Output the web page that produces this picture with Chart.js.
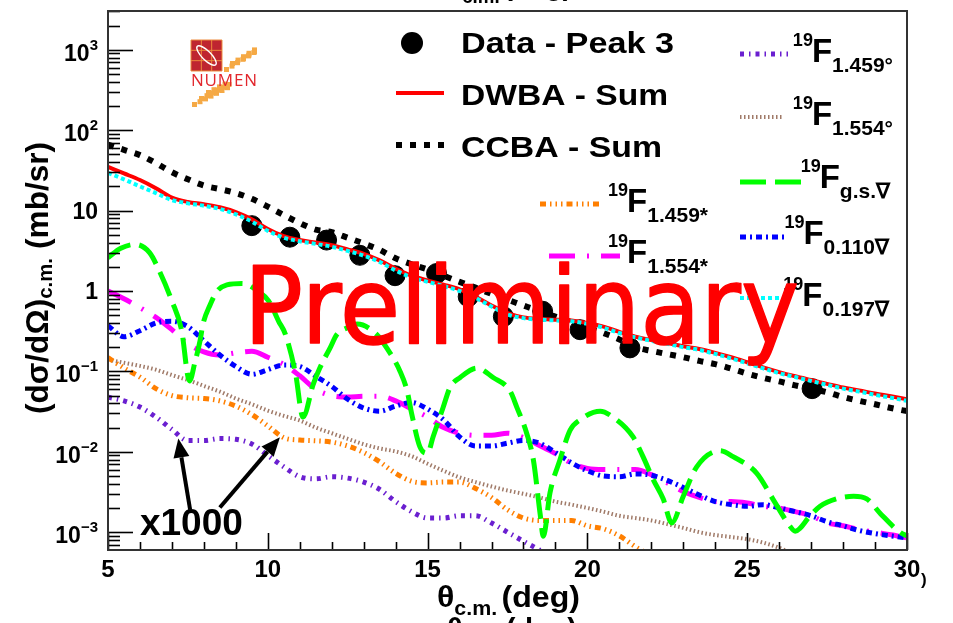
<!DOCTYPE html>
<html>
<head>
<meta charset="utf-8">
<title>19F angular distributions</title>
<script src="https://cdn.jsdelivr.net/npm/chart.js@4.4.1/dist/chart.umd.min.js"></script>
<style>
  html, body { margin: 0; padding: 0; background: #fff; overflow: hidden; }
  canvas { display: block; }
</style>
</head>
<body>
<canvas id="xsChart" width="953" height="623"></canvas>
<script>
// angle grid shared by the smooth theory curves (deg, c.m.)
const theta = [5, 5.5, 6, 6.5, 7, 7.5, 8, 8.5, 9, 9.5,
               10, 10.5, 11, 11.5, 12, 12.5, 13, 13.5, 14, 14.5,
               15, 15.5, 16, 16.5, 17, 17.5, 18, 18.5, 19, 19.5,
               20, 20.5, 21, 21.5, 22, 22.5, 23, 23.5, 24, 24.5,
               25, 25.5, 26, 26.5, 27, 27.5, 28, 28.5, 29, 29.5, 30];

// cross sections in mb/sr
const dwbaSum = [35, 29, 24, 19, 14.5, 12.8, 12.0, 11.0, 9.6, 7.8,
                 5.9, 4.8, 4.3, 4.0, 3.7, 3.3, 2.9, 2.4, 1.9, 1.55,
                 1.35, 1.2, 1.05, 0.85, 0.66, 0.53, 0.47, 0.45, 0.44, 0.43,
                 0.40, 0.36, 0.31, 0.27, 0.245, 0.225, 0.205, 0.19, 0.17, 0.15,
                 0.13, 0.112, 0.098, 0.087, 0.078, 0.07, 0.063, 0.058, 0.053, 0.049, 0.045];
const ccbaSum = [66, 57, 49, 39, 30, 24.5, 20.5, 18.5, 16.5, 14,
                 11.2, 8.8, 7.0, 5.8, 5.4, 4.6, 3.9, 3.25, 2.55, 2.15,
                 1.85, 1.55, 1.3, 1.1, 0.92, 0.78, 0.66, 0.56, 0.48, 0.41,
                 0.35, 0.3, 0.25, 0.2, 0.18, 0.164, 0.15, 0.135, 0.123, 0.108,
                 0.094, 0.083, 0.075, 0.067, 0.061, 0.055, 0.048, 0.043, 0.039, 0.035, 0.032];
const f0197 = [29.5, 24.5, 20, 16.5, 13.5, 12.3, 11.5, 10.5, 9.0, 7.3,
               5.6, 4.6, 4.15, 3.85, 3.55, 3.15, 2.75, 2.3, 1.8, 1.48,
               1.3, 1.15, 1.0, 0.82, 0.64, 0.51, 0.46, 0.44, 0.43, 0.42,
               0.39, 0.35, 0.30, 0.265, 0.24, 0.22, 0.2, 0.185, 0.165, 0.145,
               0.126, 0.109, 0.095, 0.085, 0.076, 0.068, 0.061, 0.056, 0.051, 0.047, 0.043];
const f0110 = [0.37, 0.27, 0.32, 0.40, 0.42, 0.36, 0.24, 0.16, 0.115, 0.092,
               0.105, 0.12, 0.115, 0.087, 0.065, 0.045, 0.035, 0.032, 0.037, 0.041,
               0.034, 0.025, 0.0153, 0.0118, 0.0118, 0.0128, 0.0138, 0.0128, 0.0098, 0.0073,
               0.0058, 0.005, 0.0049, 0.0053, 0.0051, 0.0044, 0.0036, 0.0029, 0.0024, 0.0022,
               0.0021, 0.0022, 0.002, 0.0018, 0.0016, 0.00135, 0.0012, 0.00105, 0.00096, 0.0009, 0.00085];
const f1554s = [1.0, 0.80, 0.62, 0.47, 0.33, 0.22, 0.175, 0.16, 0.17, 0.178,
                0.15, 0.122, 0.088, 0.06, 0.05, 0.048, 0.049, 0.049, 0.043, 0.034,
                0.027, 0.02, 0.017, 0.016, 0.016, 0.017, 0.015, 0.012, 0.0095, 0.0072,
                0.0062, 0.006, 0.006, 0.006, 0.0052, 0.0041, 0.0032, 0.0027, 0.0024, 0.0024,
                0.0023, 0.0021, 0.002, 0.0018, 0.0016, 0.0013, 0.0012, 0.00108, 0.001, 0.00093, 0.00085];
// the two "x1000" curves
const f1459s = [0.148, 0.11, 0.085, 0.061, 0.05, 0.047, 0.046, 0.043, 0.037, 0.029,
                0.021, 0.015, 0.014, 0.0137, 0.0132, 0.0118, 0.0098, 0.0075, 0.0054, 0.0043,
                0.0041, 0.0042, 0.0042, 0.0035, 0.0027, 0.0019, 0.0015, 0.0014, 0.0014, 0.0014,
                0.0012, 0.0011, 0.0009, 0.00066, 0.0005, null, null, null, null, null,
                null, null, null, null, null, null, null, null, null, null, null];
const f1459d = [0.0476, 0.043, 0.036, 0.027, 0.019, 0.0138, 0.0138, 0.0146, 0.0143, 0.0125,
                0.009, 0.0065, 0.0049, 0.0046, 0.0049, 0.0047, 0.0042, 0.0034, 0.0024, 0.0018,
                0.0015, 0.0015, 0.0016, 0.0016, 0.0013, 0.001, 0.00077, 0.0006, 0.00045, null,
                null, null, null, null, null, null, null, null, null, null,
                null, null, null, null, null, null, null, null, null, null, null];
const f1554d = [0.14, 0.128, 0.117, 0.105, 0.09, 0.078, 0.066, 0.056, 0.046, 0.039,
                0.0325, 0.028, 0.0245, 0.020, 0.017, 0.0145, 0.0124, 0.011, 0.0101, 0.0088,
                0.0071, 0.0058, 0.0048, 0.0042, 0.0037, 0.0033, 0.003, 0.0027, 0.0024, 0.0022,
                0.002, 0.0018, 0.0016, 0.0015, 0.0014, 0.00126, 0.00113, 0.001, 0.00092, 0.00087,
                0.00082, 0.00074, 0.00064, 0.00052, null, null, null, null, null, null, null];

// ground state oscillates hard, so it gets its own angles
const gsTheta = [5.0, 5.4, 5.85, 6.3, 6.6, 7.0, 7.3, 7.55, 7.72, 7.88,
                 7.97, 8.2, 8.4, 8.72, 9.2, 9.7, 10.03, 10.34, 10.55, 10.87,
                 11.1, 11.42, 11.63, 11.95, 12.16, 12.47, 12.8, 13.41, 13.72, 14.14,
                 14.36, 14.5, 14.76, 15.0, 15.17, 15.49, 15.7, 16.02, 16.54, 17.05,
                 17.58, 17.79, 18.1, 18.31, 18.52, 18.62, 18.83, 19.14, 19.46, 19.77,
                 20.4, 20.8, 21.43, 21.74, 22.06, 22.37, 22.64, 23.0, 23.42, 24.15,
                 24.56, 25.3, 25.8, 26.33, 26.5, 26.97, 27.28, 27.8, 28.33, 28.74,
                 29.17, 29.79, 30.0];
const gsValue = [2.6, 3.4, 3.8, 3.0, 1.8, 0.75, 0.33, 0.076, 0.13, 0.24,
                 0.385, 0.68, 0.98, 1.19, 1.24, 0.99, 0.75, 0.42, 0.29, 0.093,
                 0.027, 0.069, 0.111, 0.196, 0.287, 0.347, 0.388, 0.287, 0.196, 0.10,
                 0.057, 0.03, 0.0115, 0.0096, 0.0153, 0.036, 0.063, 0.084, 0.11, 0.084,
                 0.057, 0.036, 0.017, 0.0079, 0.0017, 0.00089, 0.0031, 0.0079, 0.0186, 0.025,
                 0.032, 0.027, 0.0153, 0.0087, 0.0045, 0.0026, 0.0013, 0.0028, 0.0065, 0.0103,
                 0.0087, 0.0054, 0.0026, 0.0012, 0.00103, 0.0016, 0.0021, 0.0026, 0.0028, 0.0026,
                 0.0017, 0.00099, 0.0009];

// measured points, peak 3
const dataTheta = [9.5, 10.69, 11.84, 12.88, 13.98, 15.28, 16.27, 17.37, 18.6, 19.77, 21.33, 27.03];
const dataValue = [6.5, 4.67, 4.3, 2.78, 1.55, 1.65, 0.85, 0.48, 0.56, 0.33, 0.196, 0.061];

// axis
const xTicks = [5, 10, 15, 20, 25, 30];
const yDecades = [-3, -2, -1, 0, 1, 2, 3];
const X_MIN = 5, X_MAX = 30, Y_MIN = 6.2e-4, Y_MAX = 3040;

const FONT = '"Liberation Sans", Arial, Helvetica, sans-serif';

function pts(xs, ys) {
    var out = [];
    for (var i = 0; i < xs.length; i++) {
        if (ys[i] !== null) out.push({ x: xs[i], y: ys[i] });
    }
    return out;
}

// line looks, shared by the plot and the legend samples
var styles = {
    dwba:   { color: '#ff0000', width: 4, dash: [] },
    ccba:   { color: '#000000', width: 6, dash: [6, 8] },
    f0197:  { color: '#00ffff', width: 4, dash: [4, 3] },
    gs:     { color: '#00ff00', width: 5, dash: [26, 9] },
    f0110:  { color: '#0000ff', width: 5, dash: [6, 4, 2, 4] },
    f1554s: { color: '#ff00ff', width: 5, dash: [26, 12, 2, 12] },
    f1459s: { color: '#ff7f00', width: 5, dash: [6, 4, 1.5, 4, 1.5, 4, 1.5, 4] },
    f1554d: { color: '#a07a68', width: 4, dash: [1.5, 2.5] },
    f1459d: { color: '#6a1fd0', width: 5, dash: [4, 5, 1.5, 5] }
};

function curve(key, points) {
    var s = styles[key];
    return {
        data: points,
        showLine: true,
        borderColor: s.color,
        borderWidth: s.width,
        borderDash: s.dash,
        pointRadius: 0,
        cubicInterpolationMode: 'monotone',
        fill: false
    };
}

function runWidths(ctx, runs) {
    var total = 0;
    runs.forEach(function (r) {
        ctx.font = (r.weight || 'bold') + ' ' + r.size + 'px ' + FONT;
        r.w = ctx.measureText(r.t).width + (r.pad || 0);
        total += r.w;
    });
    return total;
}

// draws a row of text pieces (super/subscripts via dy), optionally squeezed to a width
function drawRuns(ctx, runs, x, y, align, fitWidth) {
    var total = runWidths(ctx, runs);
    var sx = fitWidth ? fitWidth / total : 1;
    var w = total * sx;
    var x0 = align === 'right' ? x - w : (align === 'center' ? x - w / 2 : x);
    ctx.save();
    ctx.translate(x0, y);
    ctx.scale(sx, 1);
    ctx.textAlign = 'left';
    ctx.textBaseline = 'alphabetic';
    var cx = 0;
    runs.forEach(function (r) {
        ctx.font = (r.weight || 'bold') + ' ' + r.size + 'px ' + FONT;
        ctx.fillText(r.t, cx, r.dy || 0);
        cx += r.w;
    });
    ctx.restore();
}

function sample(ctx, key, x1, x2, y) {
    var s = styles[key];
    ctx.save();
    ctx.strokeStyle = s.color;
    ctx.lineWidth = s.width;
    ctx.setLineDash(s.dash);
    ctx.beginPath();
    ctx.moveTo(x1, y);
    ctx.lineTo(x2, y);
    ctx.stroke();
    ctx.restore();
}

function isotope(ctx, sub, right, baseY) {
    drawRuns(ctx, [
        { t: '19', size: 18, dy: -16, pad: -1 },
        { t: 'F', size: 33 },
        { t: sub, size: 21, dy: 10 }
    ], right, baseY, 'right');
}

function arrow(ctx, x1, y1, x2, y2) {
    var a = Math.atan2(y2 - y1, x2 - x1);
    var hl = 19, hw = 8;
    var bx = x2 - hl * Math.cos(a), by = y2 - hl * Math.sin(a);
    ctx.beginPath();
    ctx.moveTo(x1, y1);
    ctx.lineTo(bx, by);
    ctx.stroke();
    ctx.beginPath();
    ctx.moveTo(x2, y2);
    ctx.lineTo(bx + hw * Math.sin(a), by - hw * Math.cos(a));
    ctx.lineTo(bx - hw * Math.sin(a), by + hw * Math.cos(a));
    ctx.closePath();
    ctx.fill();
}

function drawLogo(ctx, x0, y0) {
    var i;
    ctx.save();
    // pixel trails
    ctx.fillStyle = '#f5a945';
    for (i = 0; i < 6; i++) ctx.fillRect(x0 + 33 + i * 5.5, y0 + 27 - i * 3.4, 5, 5);
    for (i = 0; i < 5; i++) ctx.fillRect(x0 + 39 + i * 5.5, y0 + 21 - i * 3.4, 5, 5);
    for (i = 0; i < 3; i++) ctx.fillRect(x0 + 50 + i * 5.5, y0 + 16 - i * 3.4, 5, 5);
    for (i = 0; i < 7; i++) ctx.fillRect(x0 + 1 + i * 5.5, y0 + 62 - i * 2.8, 5, 5);
    for (i = 0; i < 6; i++) ctx.fillRect(x0 + 8 + i * 5.5, y0 + 56 - i * 2.8, 5, 5);
    for (i = 0; i < 4; i++) ctx.fillRect(x0 + 15 + i * 5.5, y0 + 50 - i * 2.8, 5, 5);
    ctx.fillStyle = '#bf2530';
    ctx.fillRect(x0, y0, 31, 31);
    ctx.strokeStyle = '#ec8a3c';
    ctx.lineWidth = 1;
    for (i = 0; i <= 3; i++) {
        ctx.beginPath();
        ctx.moveTo(x0 + i * 10.33, y0); ctx.lineTo(x0 + i * 10.33, y0 + 31);
        ctx.moveTo(x0, y0 + i * 10.33); ctx.lineTo(x0 + 31, y0 + i * 10.33);
        ctx.stroke();
    }
    ctx.strokeStyle = '#ffffff';
    ctx.lineWidth = 1.4;
    ctx.beginPath();
    ctx.ellipse(x0 + 15.5, y0 + 15.5, 13, 4.5, Math.PI / 4, 0, 2 * Math.PI);
    ctx.stroke();
    // spaced-out lettering
    ctx.fillStyle = '#e2272d';
    ctx.font = '500 17px "Open Sans", ' + FONT;
    var word = 'NUMEN', natural = ctx.measureText(word).width;
    var gap = (66 - natural) / (word.length - 1), cx = x0;
    for (i = 0; i < word.length; i++) {
        ctx.fillText(word[i], cx, y0 + 46);
        cx += ctx.measureText(word[i]).width + gap;
    }
    ctx.restore();
}

// arrow anchors for the "x1000" note, in (deg, mb/sr)
const noteTails = [[7.57, 0.0019], [8.5, 0.00203]];
const noteTips = [[7.2, 0.0146], [10.38, 0.0152]];
const notePos = [6.0, 0.00093];

const rootStyle = {
    id: 'rootStyle',
    afterDatasetsDraw: function (chart) {
        var ctx = chart.ctx, xs = chart.scales.x, ys = chart.scales.y;
        var a = chart.chartArea;
        ctx.save();
        ctx.strokeStyle = '#000';
        ctx.lineWidth = 1.6;
        ctx.setLineDash([]);
        // inward log ticks on the left
        for (var e = -4; e <= 3; e++) {
            for (var m = 1; m <= 9; m++) {
                var v = m * Math.pow(10, e);
                if (v < Y_MIN || v > Y_MAX) continue;
                var py = Math.round(ys.getPixelForValue(v)) + 0.5;
                ctx.beginPath();
                ctx.moveTo(a.left, py);
                ctx.lineTo(a.left + (m === 1 ? 25 : 12), py);
                ctx.stroke();
            }
        }
        // ticks on the bottom
        for (var t = X_MIN; t <= X_MAX; t++) {
            var px = Math.round(xs.getPixelForValue(t)) + 0.5;
            ctx.beginPath();
            ctx.moveTo(px, a.bottom);
            ctx.lineTo(px, a.bottom - (t % 5 === 0 ? 17 : 8));
            ctx.stroke();
        }
        ctx.strokeStyle = '#333';
        ctx.lineWidth = 2;
        ctx.strokeRect(a.left, a.top, a.right - a.left, a.bottom - a.top);

        // tick labels
        ctx.fillStyle = '#000';
        xTicks.forEach(function (t) {
            drawRuns(ctx, [{ t: String(t), size: 24 }], xs.getPixelForValue(t), 577, 'center');
        });
        yDecades.forEach(function (d) {
            var py = ys.getPixelForValue(Math.pow(10, d));
            var runs;
            if (d === 0) runs = [{ t: '1', size: 23 }];
            else if (d === 1) runs = [{ t: '10', size: 23 }];
            else runs = [{ t: '10', size: 23 }, { t: (d < 0 ? '\u2212' : '') + Math.abs(d), size: 15, dy: -11 }];
            drawRuns(ctx, runs, 98, py + (runs.length > 1 ? 11 : 8), 'right');
        });
        drawRuns(ctx, [{ t: ')', size: 17 }], 921, 585, 'left');

        // axis titles, plus the clipped copies at the page edges
        var xTitle = function () {
            return [
                { t: '\u03b8', size: 30 },
                { t: 'c.m.', size: 20, dy: 8, pad: 4 },
                { t: '(deg)', size: 30 }
            ];
        };
        drawRuns(ctx, xTitle(), 437, 607, 'left', 143);
        drawRuns(ctx, xTitle(), 447, -5, 'left', 125);
        drawRuns(ctx, xTitle(), 447, 639, 'left', 130);
        ctx.save();
        ctx.translate(48, 414);
        ctx.rotate(-Math.PI / 2);
        drawRuns(ctx, [
            { t: '(d\u03c3/d\u03a9)', size: 31 },
            { t: 'c.m.', size: 20, dy: 4, pad: 9 },
            { t: '(mb/sr)', size: 31 }
        ], 0, 0, 'left', 272);
        ctx.restore();

        // x1000 note with its two arrows
        ctx.strokeStyle = '#000';
        ctx.fillStyle = '#000';
        ctx.lineWidth = 4;
        for (var k = 0; k < noteTips.length; k++) {
            arrow(ctx,
                xs.getPixelForValue(noteTails[k][0]), ys.getPixelForValue(noteTails[k][1]),
                xs.getPixelForValue(noteTips[k][0]), ys.getPixelForValue(noteTips[k][1]));
        }
        drawRuns(ctx, [{ t: 'x1000', size: 37 }], xs.getPixelForValue(notePos[0]), ys.getPixelForValue(notePos[1]), 'left');
        ctx.restore();
    },
    afterDraw: function (chart) {
        var ctx = chart.ctx;
        ctx.save();
        drawLogo(ctx, 191, 40);

        // legend, left block
        ctx.fillStyle = '#000';
        ctx.beginPath();
        ctx.arc(412, 43, 11, 0, 2 * Math.PI);
        ctx.fill();
        sample(ctx, 'dwba', 396, 444, 93);
        sample(ctx, 'ccba', 396, 444, 145);
        drawRuns(ctx, [{ t: 'Data - Peak 3', size: 30 }], 461, 53, 'left', 213);
        drawRuns(ctx, [{ t: 'DWBA - Sum', size: 30 }], 461, 105, 'left', 207);
        drawRuns(ctx, [{ t: 'CCBA - Sum', size: 30 }], 461, 157, 'left', 201);

        // legend, isotope entries
        sample(ctx, 'f1459s', 540, 603, 204);
        sample(ctx, 'f1554s', 549, 620, 256);
        sample(ctx, 'f1459d', 740, 788, 54);
        sample(ctx, 'f1554d', 740, 784, 117);
        sample(ctx, 'gs', 740, 804, 182);
        sample(ctx, 'f0110', 740, 788, 237);
        sample(ctx, 'f0197', 740, 784, 298);
        ctx.fillStyle = '#000';
        isotope(ctx, '1.459*', 708, 212);
        isotope(ctx, '1.554*', 708, 263);
        isotope(ctx, '1.459\u00b0', 893, 62);
        isotope(ctx, '1.554\u00b0', 893, 125);
        isotope(ctx, 'g.s.\u2207', 890, 188);
        isotope(ctx, '0.110\u2207', 889, 244);
        isotope(ctx, '0.197\u2207', 889, 306);

        // watermark
        ctx.font = '107px "DejaVu Sans", sans-serif';
        var mt = ctx.measureText('Preliminary');
        var ink = mt.actualBoundingBoxLeft + mt.actualBoundingBoxRight;
        var sx = 544 / ink;
        ctx.translate(253 + mt.actualBoundingBoxLeft * sx, 343);
        ctx.scale(sx, 1);
        ctx.fillStyle = '#ff0000';
        ctx.strokeStyle = '#ff0000';
        ctx.lineWidth = 1.5;
        ctx.lineJoin = 'round';
        ctx.fillText('Preliminary', 0, 0);
        ctx.strokeText('Preliminary', 0, 0);
        ctx.restore();
    }
};

var ctx = document.getElementById('xsChart').getContext('2d');
var xsChart = new Chart(ctx, {
    type: 'scatter',
    data: {
        datasets: [
            curve('f0197', pts(theta, f0197)),
            curve('dwba', pts(theta, dwbaSum)),
            curve('ccba', pts(theta, ccbaSum)),
            curve('gs', pts(gsTheta, gsValue)),
            curve('f0110', pts(theta, f0110)),
            curve('f1554s', pts(theta, f1554s)),
            curve('f1459s', pts(theta, f1459s)),
            curve('f1554d', pts(theta, f1554d)),
            curve('f1459d', pts(theta, f1459d)),
            {
                data: pts(dataTheta, dataValue),
                showLine: false,
                pointRadius: 10,
                pointBackgroundColor: '#000',
                pointBorderColor: '#000',
                pointBorderWidth: 1
            }
        ]
    },
    options: {
        responsive: false,
        animation: false,
        layout: { padding: { left: 108, right: 46, top: 6, bottom: 73 } },
        scales: {
            x: { type: 'linear', min: X_MIN, max: X_MAX, display: false },
            y: { type: 'logarithmic', min: Y_MIN, max: Y_MAX, display: false }
        },
        plugins: {
            legend: { display: false },
            tooltip: { enabled: false }
        }
    },
    plugins: [rootStyle]
});
</script>
</body>
</html>
